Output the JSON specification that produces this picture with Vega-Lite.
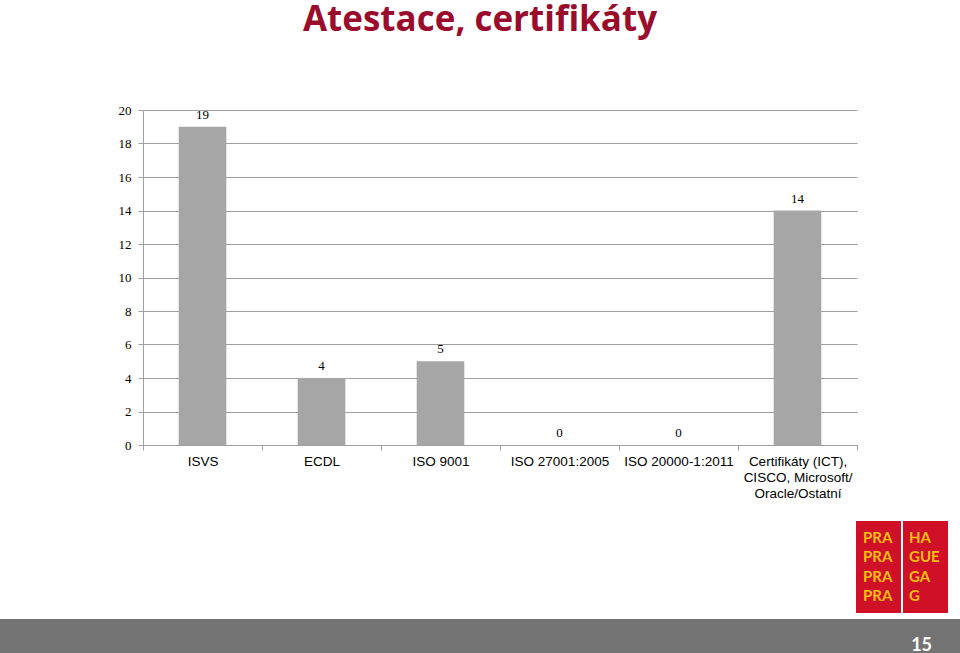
{
  "$schema": "https://vega.github.io/schema/vega-lite/v6.json",
  "padding": {"top": 3, "left": 0, "right": 0, "bottom": 0},
  "background": "white",
  "spacing": 5,
  "config": {"view": {"stroke": null}},
  "title": {"text": "Atestace, certifikáty", "font": "Open Sans", "fontSize": 35, "fontWeight": "bold", "color": "#9A0C2C", "anchor": "middle", "offset": 66},
  "datasets": {
    "counts": [
      {"category": "ISVS", "count": 19},
      {"category": "ECDL", "count": 4},
      {"category": "ISO 9001", "count": 5},
      {"category": "ISO 27001:2005", "count": 0},
      {"category": "ISO 20000-1:2011", "count": 0},
      {"category": "Certifikáty (ICT),\nCISCO, Microsoft/\nOracle/Ostatní", "count": 14}
    ],
    "logo": [
      {"col": "L", "row": 1, "word": "PRA"},
      {"col": "L", "row": 2, "word": "PRA"},
      {"col": "L", "row": 3, "word": "PRA"},
      {"col": "L", "row": 4, "word": "PRA"},
      {"col": "R", "row": 1, "word": "HA"},
      {"col": "R", "row": 2, "word": "GUE"},
      {"col": "R", "row": 3, "word": "GA"},
      {"col": "R", "row": 4, "word": "G"}
    ],
    "footer": [
      {"page": "15"}
    ],
    "empty": []
  },
  "vconcat": [
    {
      "spacing": 0,
      "hconcat": [
        {"width": 113, "height": 1, "data": {"name": "empty"}, "mark": "point"},
        {
          "width": 714,
          "height": 335,
          "data": {"name": "counts"},
          "encoding": {
            "x": {
              "field": "category", "type": "nominal", "sort": null,
              "scale": {"paddingInner": 0, "paddingOuter": 0},
              "axis": {
                "title": null, "labelAngle": 0, "tickBand": "extent", "grid": false,
                "domainColor": "#A0A0A0", "tickColor": "#A0A0A0", "tickSize": 5,
                "labelFont": "Liberation Sans", "labelFontSize": 13.5, "labelColor": "#000000",
                "labelPadding": 4, "labelExpr": "isValid(datum.value) ? split(datum.value, '\\n') : ''", "labelLineHeight": 16,
                "labelOverlap": false, "labelLimit": 0, "labelBound": false,
                "minExtent": 70, "maxExtent": 70
              }
            },
            "y": {
              "field": "count", "type": "quantitative",
              "scale": {"domain": [0, 20], "nice": false},
              "axis": {
                "title": null, "values": [0, 2, 4, 6, 8, 10, 12, 14, 16, 18, 20], "grid": true,
                "gridColor": "#A0A0A0", "domainColor": "#A0A0A0", "tickColor": "#A0A0A0", "tickSize": 5,
                "labelFont": "Liberation Serif", "labelFontSize": 13, "labelColor": "#000000",
                "labelPadding": 7, "minExtent": 30, "maxExtent": 30
              }
            }
          },
          "layer": [
            {"mark": {"type": "bar", "color": "#A6A6A6", "width": {"band": 0.4}}},
            {
              "mark": {"type": "text", "font": "Liberation Serif", "fontSize": 13, "color": "#000000", "baseline": "alphabetic", "dy": -8},
              "encoding": {"text": {"field": "count", "type": "quantitative"}}
            }
          ]
        }
      ]
    },
    {
      "spacing": 0,
      "hconcat": [
        {"width": 856, "height": 1, "data": {"name": "empty"}, "mark": "point"},
        {
          "width": 92,
          "height": 92,
          "data": {"name": "logo"},
          "view": {"fill": "#CF1027", "stroke": null},
          "layer": [
            {
              "mark": {"type": "text", "font": "Lato", "fontWeight": "bold", "fontSize": 15, "color": "#FDBE14", "align": "left", "baseline": "middle", "dx": 7},
              "encoding": {
                "x": {"field": "col", "type": "nominal", "scale": {"type": "band", "paddingInner": 0, "paddingOuter": 0}, "bandPosition": 0, "axis": null},
                "y": {"field": "row", "type": "ordinal", "scale": {"type": "band", "paddingInner": 0, "paddingOuter": 0.35}, "axis": null},
                "text": {"field": "word", "type": "nominal"}
              }
            },
            {
              "mark": {"type": "rule", "color": "#FFFFFF", "strokeWidth": 2},
              "encoding": {
                "x": {"datum": "R", "type": "nominal", "bandPosition": 0}
              }
            }
          ]
        }
      ]
    },
    {
      "width": 960,
      "height": 35,
      "data": {"name": "footer"},
      "view": {"fill": "#737373", "stroke": null},
      "mark": {"type": "text", "font": "Lato", "fontWeight": "bold", "fontSize": 18, "color": "#FFFFFF", "baseline": "middle", "dy": 9},
      "encoding": {
        "x": {"field": "page", "type": "nominal", "scale": {"type": "point", "padding": 0, "align": 0.96}, "axis": null},
        "text": {"field": "page", "type": "nominal"}
      }
    }
  ]
}
